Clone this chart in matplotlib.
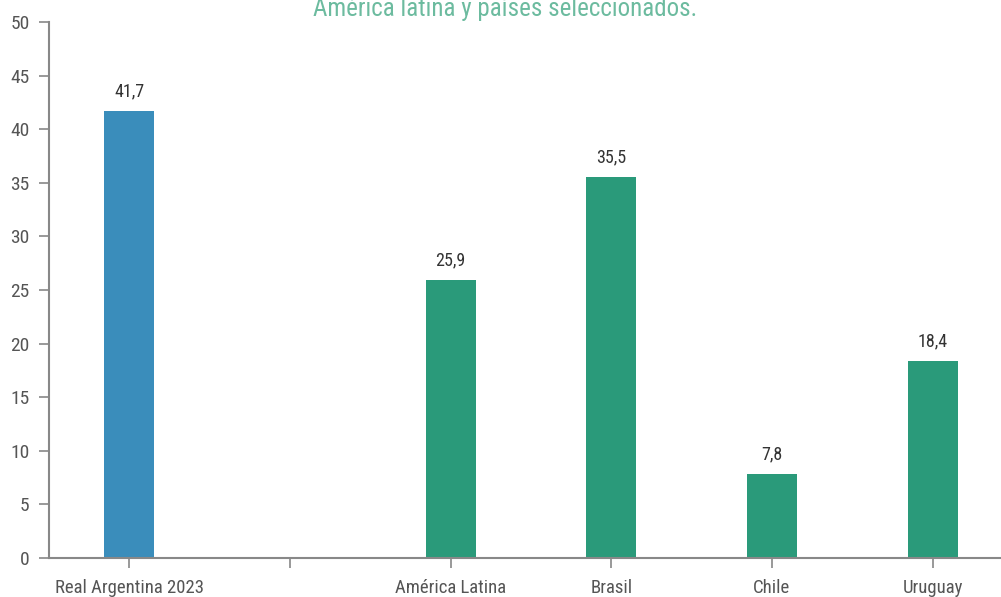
import matplotlib.pyplot as plt
from matplotlib import font_manager

# Datos
categorias = ['Real Argentina 2023', '', 'América Latina', 'Brasil', 'Chile', 'Uruguay']
valores = [41.7, None, 25.9, 35.5, 7.8, 18.4]
colores = ['#3a8dbb', '#2a9a7a', '#2a9a7a', '#2a9a7a', '#2a9a7a', '#2a9a7a']
titulo = 'América latina y países seleccionados.'

# Buscar una fuente angosta si existe
disponibles = {f.name for f in font_manager.fontManager.ttflist}
fuente = 'DejaVu Sans'
for cand in ['Roboto Condensed', 'Liberation Sans Narrow', 'Open Sans Condensed', 'DejaVu Sans Condensed', 'Roboto']:
    if cand in disponibles:
        fuente = cand
        break
plt.rcParams['font.family'] = [fuente, 'DejaVu Sans']

fig = plt.figure(figsize=(10.01, 5.97), dpi=100)
ax = fig.add_axes([49 / 1001, 39 / 597, 964 / 1001, 536 / 597])

x = list(range(len(categorias)))
for i, v in enumerate(valores):
    if v is None:
        continue
    ax.bar(i, v, width=0.31, color=colores[i])
    ax.text(i, v + 1.0, f'{v:.1f}'.replace('.', ','), ha='center', va='bottom',
            fontsize=13, color='#333333')

ax.set_xlim(-0.5, 5.5)
ax.set_ylim(0, 50)
ax.set_yticks(range(0, 51, 5))
ax.set_xticks(x)
ax.set_xticklabels(categorias)

for s in ['top', 'right']:
    ax.spines[s].set_visible(False)
for s in ['left', 'bottom']:
    ax.spines[s].set_color('#888888')
    ax.spines[s].set_linewidth(1.5)

ax.tick_params(axis='both', colors='#888888', width=1.2, length=7, labelsize=14)
ax.tick_params(axis='x', pad=8, labelsize=13.5)
ax.tick_params(axis='y', pad=7)
for lab in ax.get_xticklabels() + ax.get_yticklabels():
    lab.set_color('#555555')

fig.text(505 / 1001, 1.0 - 16 / 597, titulo, ha='center', va='baseline',
         fontsize=18, color='#6cbb9f')

plt.savefig('out.png', dpi=100)
